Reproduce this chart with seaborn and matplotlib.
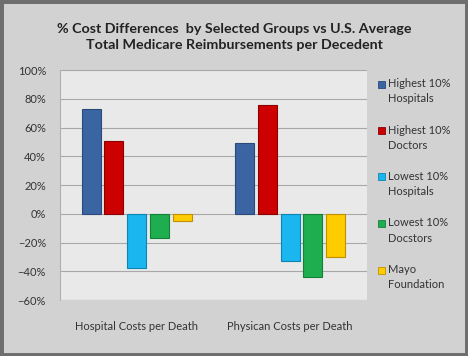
import numpy as np
import pandas as pd
import matplotlib
matplotlib.use("Agg")
import matplotlib.pyplot as plt
import seaborn as sns
from matplotlib.patches import Rectangle
from matplotlib.ticker import PercentFormatter

categories = ["Hospital Costs per Death", "Physican Costs per Death"]
groups = ["Highest 10%\nHospitals", "Highest 10%\nDoctors", "Lowest 10%\nHospitals",
          "Lowest 10%\nDocstors", "Mayo\nFoundation"]
hospital_vals = [73, 51, -38, -17, -5]
physician_vals = [49, 76, -33, -44, -30]
colors = ["#3b64a3", "#cc0000", "#19b6f0", "#1fae4f", "#ffcc00"]
edge_colors = ["#2a4a7a", "#8c0000", "#0e85b0", "#14803a", "#c09000"]

rows = []
for g, h, p in zip(groups, hospital_vals, physician_vals):
    rows.append({"category": categories[0], "group": g, "value": h})
    rows.append({"category": categories[1], "group": g, "value": p})
df = pd.DataFrame(rows)

sns.set_style("white")
plt.rcParams["font.family"] = ["Lato", "DejaVu Sans"]

fig = plt.figure(figsize=(4.68, 3.56), dpi=100)
fig.patch.set_facecolor("#d2d2d2")
ax = fig.add_axes([0.128, 0.157, 0.656, 0.646])
ax.set_facecolor("#e9e9e9")

sns.barplot(data=df, x="category", y="value", hue="group", order=categories,
            hue_order=groups, palette=colors, width=0.74, gap=0.16,
            saturation=1, ax=ax, legend=False)

for cont, ec in zip(ax.containers, edge_colors):
    for bar in cont:
        bar.set_edgecolor(ec)
        bar.set_linewidth(0.8)

ax.set_ylim(-60, 100)
ax.set_xlim(-0.5, 1.5)
ax.set_yticks(np.arange(-60, 101, 20))
ax.yaxis.set_major_formatter(PercentFormatter(decimals=0))
ax.grid(axis="y", color="#a8a8a8", linewidth=0.8)
ax.set_axisbelow(True)
ax.set_xlabel("")
ax.set_ylabel("")
ax.tick_params(axis="y", labelsize=8, colors="#333333", length=0, pad=10)
ax.tick_params(axis="x", labelsize=8, colors="#333333", length=0, pad=15)
for s in ["top", "right"]:
    ax.spines[s].set_visible(False)
ax.spines["left"].set_color("#b0b0b0")
ax.spines["bottom"].set_visible(False)

# legend drawn by hand so the marker sits on the first text line
leg_x = 381 / 468
for i, (g, c, ec) in enumerate(zip(groups, colors, edge_colors)):
    y = 1 - (84 + i * 46.5) / 356
    fig.patches.append(Rectangle((leg_x - 3.5 / 468, y - 3.5 / 356), 7 / 468, 7 / 356,
                                 transform=fig.transFigure, facecolor=c,
                                 edgecolor=ec, linewidth=0.6))
    fig.text(leg_x + 7 / 468, y + 6 / 356, g, ha="left", va="top", fontsize=8,
             color="#333333", linespacing=1.5)

fig.text(0.5, 0.896, "% Cost Differences  by Selected Groups vs U.S. Average\n"
         "Total Medicare Reimbursements per Decedent", ha="center", va="center",
         fontsize=10.3, fontweight="bold", color="#222222", linespacing=1.45)

fig.patches.append(Rectangle((0, 0), 1, 1, transform=fig.transFigure, fill=False,
                             edgecolor="#6e6e6e", linewidth=5))

fig.savefig("out.png", dpi=100, facecolor=fig.get_facecolor())
